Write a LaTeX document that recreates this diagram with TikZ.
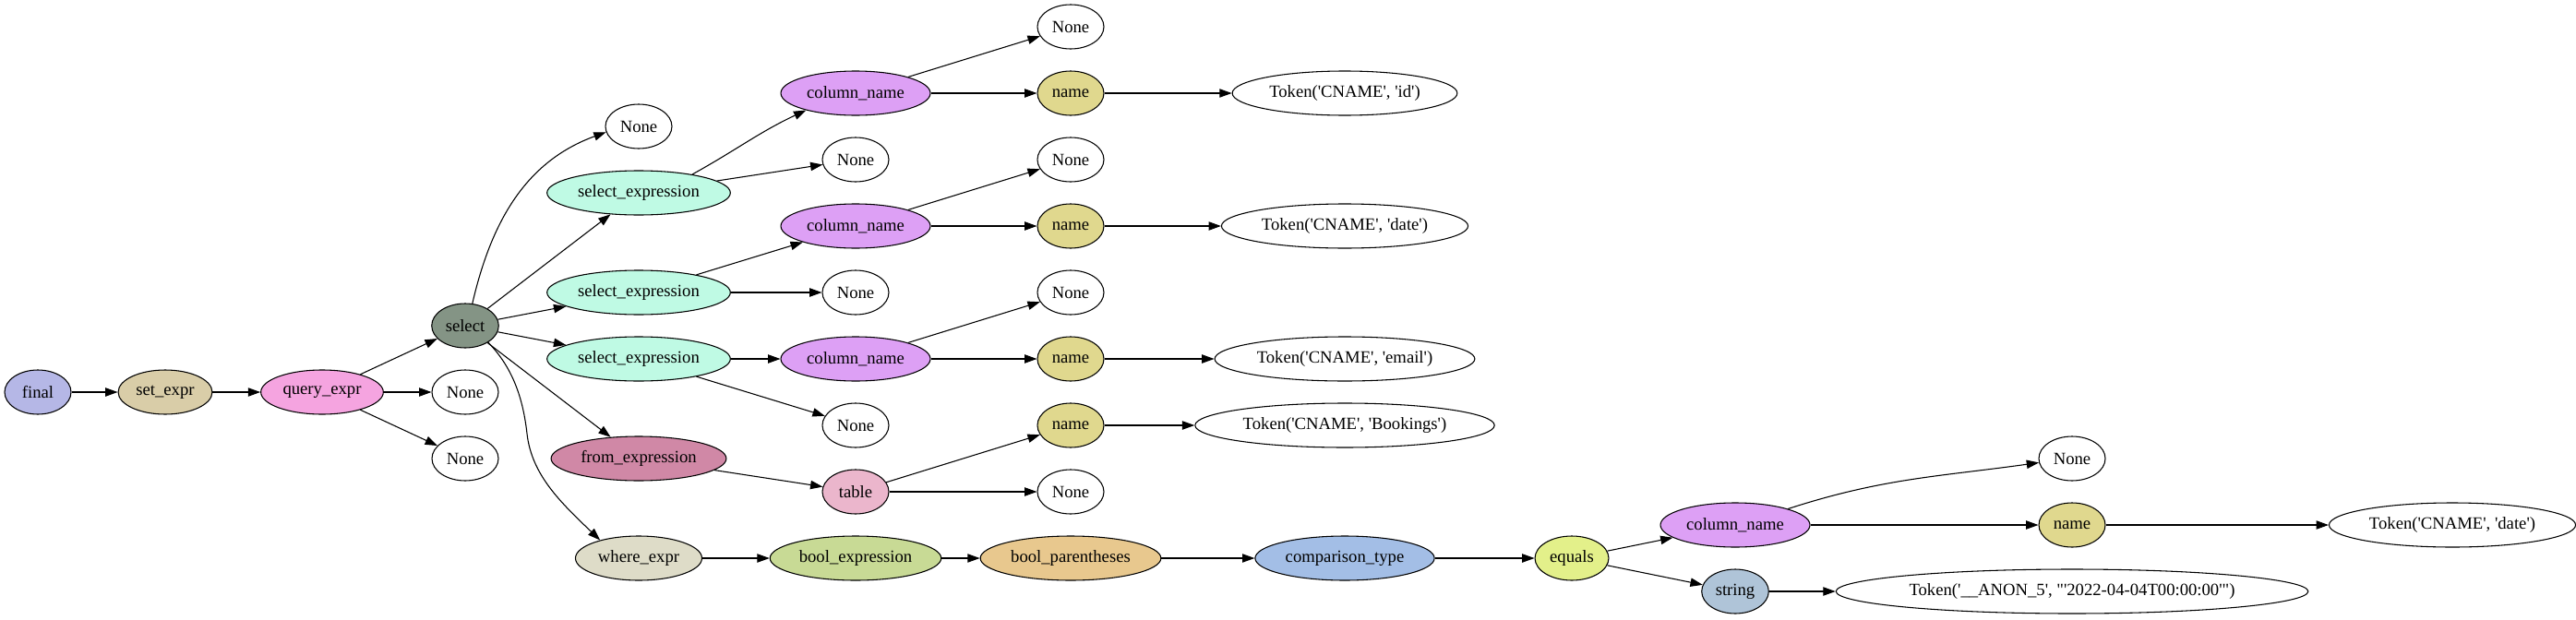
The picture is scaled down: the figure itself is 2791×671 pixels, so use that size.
\documentclass[tikz,border=0pt]{standalone}
\usepackage{fontspec}
\setmainfont{Liberation Serif}[Ligatures=TeXOff]
\usetikzlibrary{arrows.meta,shapes.geometric}

\definecolor{cfinal}{RGB}{181,183,230}
\definecolor{cset}{RGB}{217,205,168}
\definecolor{cquery}{RGB}{245,164,224}
\definecolor{cselect}{RGB}{132,148,133}
\definecolor{csel}{RGB}{191,250,228}
\definecolor{ccol}{RGB}{221,160,245}
\definecolor{cname}{RGB}{224,216,142}
\definecolor{cfrom}{RGB}{208,136,166}
\definecolor{ctable}{RGB}{235,182,204}
\definecolor{cwhere}{RGB}{222,220,200}
\definecolor{cbool}{RGB}{200,218,149}
\definecolor{cpar}{RGB}{232,200,142}
\definecolor{ccomp}{RGB}{163,190,230}
\definecolor{cequals}{RGB}{227,240,138}
\definecolor{cstring}{RGB}{175,196,216}

\tikzset{
    ast/.style={ellipse, draw, line width=0.8pt, minimum width=54pt, minimum height=36pt,
        inner xsep=3.3pt, inner ysep=1pt, font=\fontsize{14}{16}\selectfont},
    edge/.style={line width=0.8pt, -{Triangle[length=10pt,width=7pt]}}
}

\begin{document}
\begin{tikzpicture}[x=0.75pt, y=-0.75pt]
            \useasboundingbox (0, 0) rectangle (2791, 671);

            \node[ast, fill=cfinal] (final) at (41, 425) {final};
            \node[ast, fill=cset] (setexpr) at (179, 425) {set\_expr};
            \node[ast, fill=cquery] (queryexpr) at (349, 425) {query\_expr};
            \node[ast, fill=cselect] (select) at (504, 353) {select};

            \node[ast, fill=csel] (selexpr1) at (692, 209) {select\_expression};
            \node[ast, fill=csel] (selexpr2) at (692, 317) {select\_expression};
            \node[ast, fill=csel] (selexpr3) at (692, 389) {select\_expression};
            \node[ast, fill=cfrom] (fromexpr) at (692, 497) {from\_expression};
            \node[ast, fill=cwhere] (whereexpr) at (692, 605) {where\_expr};

            \node[ast, fill=ccol] (colname1) at (927, 101) {column\_name};
            \node[ast, fill=ccol] (colname2) at (927, 245) {column\_name};
            \node[ast, fill=ccol] (colname3) at (927, 389) {column\_name};
            \node[ast, fill=ctable] (table) at (927, 533) {table};
            \node[ast, fill=cbool] (boolexpr) at (927, 605) {bool\_expression};

            \node[ast, fill=cname] (name1) at (1160, 101) {name};
            \node[ast, fill=cname] (name2) at (1160, 245) {name};
            \node[ast, fill=cname] (name3) at (1160, 389) {name};
            \node[ast, fill=cname] (name4) at (1160, 461) {name};
            \node[ast, fill=cpar] (boolpar) at (1160, 605) {bool\_parentheses};

            \node[ast] (tokid) at (1457, 101) {Token('CNAME', 'id')};
            \node[ast] (tokdate) at (1457, 245) {Token('CNAME', 'date')};
            \node[ast] (tokemail) at (1457, 389) {Token('CNAME', 'email')};
            \node[ast] (tokbook) at (1457, 461) {Token('CNAME', 'Bookings')};
            \node[ast, fill=ccomp] (comptype) at (1457, 605) {comparison\_type};

            \node[ast, fill=cequals] (equals) at (1703, 605) {equals};
            \node[ast, fill=ccol] (colname4) at (1880, 569) {column\_name};
            \node[ast, fill=cstring] (string) at (1880, 641) {string};
            \node[ast, fill=cname] (name5) at (2245, 569) {name};
            \node[ast] (tokanon) at (2245, 641) {Token('\_\_ANON\_5', "'2022-04-04T00:00:00'")};
            \node[ast] (tokdate2) at (2657, 569) {Token('CNAME', 'date')};

            \foreach \n/\x/\y in {noneq1/504/425, noneq2/504/497, nones0/692/137,
                    nonee1/927/173, nonee2/927/317, nonee3/927/461,
                    nonec1/1160/29, nonec2/1160/173, nonec3/1160/317,
                    nonet/1160/533, nonec4/2245/497} {
                \node[ast] (\n) at (\x, \y) {None};
            }

            \draw[edge] (final) -- (setexpr);
            \draw[edge] (setexpr) -- (queryexpr);
            \draw[edge] (queryexpr) -- (select);
            \draw[edge] (queryexpr) -- (noneq1);
            \draw[edge] (queryexpr) -- (noneq2);

            \draw[edge] (select.72) to[out=77, in=200] (nones0.190);
            \draw[edge] (select) -- (selexpr1);
            \draw[edge] (select) -- (selexpr2);
            \draw[edge] (select) -- (selexpr3);
            \draw[edge] (select) -- (fromexpr);
            \draw[edge] (select.-36) .. controls (552, 395) and (566, 425) .. (571, 470)
                .. controls (576, 515) and (608, 545) .. (whereexpr.155);

            \draw[edge] (selexpr1.19) to[out=29, in=205] (colname1.199);
            \draw[edge] (selexpr1) -- (nonee1);
            \draw[edge] (selexpr2) -- (colname2);
            \draw[edge] (selexpr2) -- (nonee2);
            \draw[edge] (selexpr3) -- (colname3);
            \draw[edge] (selexpr3) -- (nonee3);

            \draw[edge] (colname1) -- (nonec1);
            \draw[edge] (colname1) -- (name1);
            \draw[edge] (colname2) -- (nonec2);
            \draw[edge] (colname2) -- (name2);
            \draw[edge] (colname3) -- (nonec3);
            \draw[edge] (colname3) -- (name3);
            \draw[edge] (name1) -- (tokid);
            \draw[edge] (name2) -- (tokdate);
            \draw[edge] (name3) -- (tokemail);

            \draw[edge] (fromexpr) -- (table);
            \draw[edge] (table) -- (name4);
            \draw[edge] (table) -- (nonet);
            \draw[edge] (name4) -- (tokbook);

            \draw[edge] (whereexpr) -- (boolexpr);
            \draw[edge] (boolexpr) -- (boolpar);
            \draw[edge] (boolpar) -- (comptype);
            \draw[edge] (comptype) -- (equals);
            \draw[edge] (equals) -- (colname4);
            \draw[edge] (equals) -- (string);
            \draw[edge] (colname4.17) to[out=18, in=188] (nonec4.187);
            \draw[edge] (colname4) -- (name5);
            \draw[edge] (name5) -- (tokdate2);
            \draw[edge] (string) -- (tokanon);
        \end{tikzpicture}
\end{document}
